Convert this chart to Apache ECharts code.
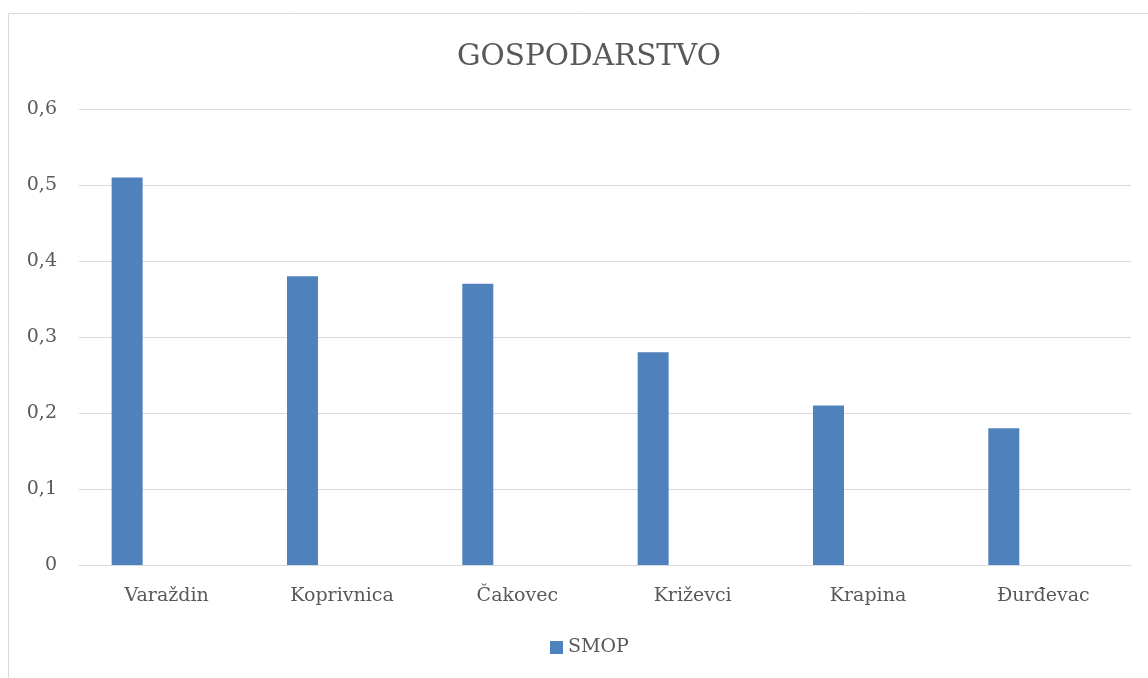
<!DOCTYPE html>
<html>
<head>
<meta charset="utf-8">
<script src="https://cdn.jsdelivr.net/npm/echarts@6/dist/echarts.min.js"></script>
<style>
  html, body { margin: 0; padding: 0; background: #fff; }
  #app { width: 1148px; height: 678px; }
</style>
</head>
<body>
<div id="app"></div>
<script>
var categories = ['Varaždin', 'Koprivnica', 'Čakovec', 'Križevci', 'Krapina', 'Đurđevac'];
var smop = [0.51, 0.38, 0.37, 0.28, 0.21, 0.18];
var blank = ['-', '-', '-', '-', '-', '-'];  // empty second series, keeps bars left in the band

var barColor = '#4f81bd';
var textColor = '#595959';
var lineColor = '#d9d9d9';
var fontFam = '"DejaVu Serif", "Liberation Serif", serif';

var myChart = echarts.init(document.getElementById('app'));
myChart.setOption({
    backgroundColor: '#fff',
    animation: false,
    title: {
        text: 'GOSPODARSTVO',
        left: 452,
        top: 37,
        textStyle: {
            fontFamily: fontFam,
            fontSize: 29.5,
            fontWeight: 'normal',
            color: textColor
        }
    },
    graphic: [{
        type: 'rect',
        shape: {x: 8.5, y: 13.5, width: 1200, height: 700},
        style: {fill: 'none', stroke: lineColor, lineWidth: 1}
    }],
    legend: {
        bottom: 16,
        left: 545,
        data: ['SMOP'],
        icon: 'rect',
        itemWidth: 13,
        itemHeight: 13,
        itemGap: 6,
        textStyle: {fontFamily: fontFam, fontSize: 19, color: textColor}
    },
    grid: {
        left: 79,
        right: 17,
        top: 109,
        bottom: 113
    },
    xAxis: {
        type: 'category',
        data: categories,
        axisTick: {show: false},
        axisLine: {lineStyle: {color: lineColor, width: 1}},
        axisLabel: {
            margin: 22,
            fontFamily: fontFam,
            fontSize: 19,
            color: textColor
        }
    },
    yAxis: {
        type: 'value',
        min: 0,
        max: 0.6,
        interval: 0.1,
        axisLine: {show: false},
        axisTick: {show: false},
        splitLine: {lineStyle: {color: lineColor, width: 1}},
        axisLabel: {
            margin: 22,
            fontFamily: fontFam,
            fontSize: 19,
            color: textColor,
            formatter: function (v) {
                return (+v.toFixed(1)).toString().replace('.', ',');
            }
        }
    },
    series: [
        {
            name: 'SMOP',
            type: 'bar',
            data: smop,
            barWidth: 31,
            barGap: '155%',
            itemStyle: {color: barColor}
        },
        {
            name: 'blank',
            type: 'bar',
            data: blank,
            barWidth: 31,
            itemStyle: {color: barColor}
        }
    ]
});
</script>
</body>
</html>
